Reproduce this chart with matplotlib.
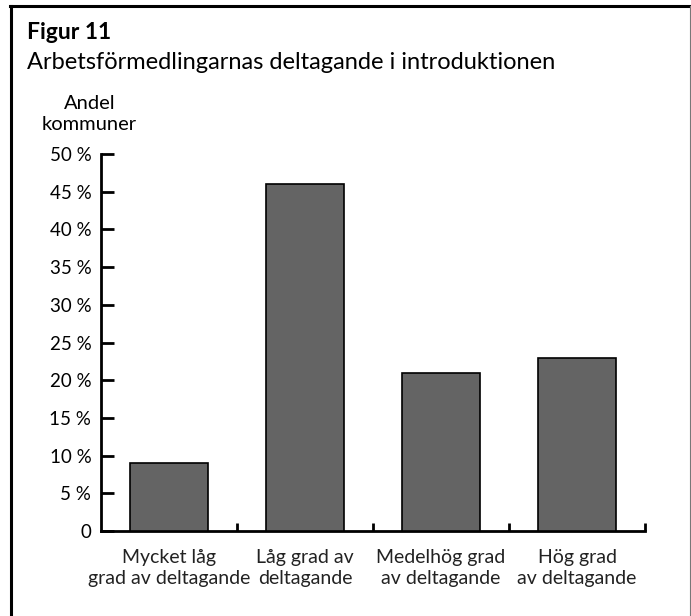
import matplotlib
matplotlib.use("Agg")
import matplotlib.pyplot as plt
from matplotlib.lines import Line2D

categories = ["Mycket låg\ngrad av deltagande", "Låg grad av\ndeltagande",
              "Medelhög grad\nav deltagande", "Hög grad\nav deltagande"]
values = [9, 46, 21, 23]
yticks = [0, 5, 10, 15, 20, 25, 30, 35, 40, 45, 50]
ytick_labels = ["0"] + [f"{v} %" for v in yticks[1:]]

plt.rcParams['font.family'] = ['Lato', 'DejaVu Sans']

W, H = 691, 616
fig = plt.figure(figsize=(W / 100, H / 100), dpi=100)

def fx(x):
    return x / W

def fy(y):
    return 1 - y / H

# frame
fig.add_artist(Line2D([fx(10), fx(691)], [fy(6), fy(6)], color='black', lw=2.2))
fig.add_artist(Line2D([fx(11), fx(11)], [fy(6), fy(616)], color='black', lw=2.2))
fig.add_artist(Line2D([fx(690), fx(690)], [fy(6), fy(616)], color='#777777', lw=0.8))

fig.text(fx(27), fy(39), "Figur 11", fontsize=16.5, fontweight='bold', va='baseline')
fig.text(fx(27), fy(69), "Arbetsförmedlingarnas deltagande i introduktionen", fontsize=17, va='baseline')

ax = fig.add_axes([fx(101), fy(531), (645 - 101) / W, (531 - 154) / H])
x = list(range(len(categories)))
ax.bar(x, values, width=0.58, color='#646464', edgecolor='black', linewidth=1.2, zorder=3)
ax.set_xlim(-0.5, 3.5)
ax.set_ylim(0, 50)

ax.spines['top'].set_visible(False)
ax.spines['right'].set_visible(False)
ax.spines['left'].set_linewidth(2)
ax.spines['bottom'].set_linewidth(2)

ax.set_yticks(yticks)
ax.set_yticklabels(ytick_labels, fontsize=13.5)
ax.tick_params(axis='y', direction='in', length=9, width=2, pad=7)

ax.set_xticks(x)
ax.set_xticklabels(categories, fontsize=14, color='#222222', linespacing=1.25)
ax.tick_params(axis='x', which='major', length=0, pad=13)
ax.set_xticks([0.5, 1.5, 2.5, 3.5], minor=True)
ax.tick_params(axis='x', which='minor', direction='in', length=6, width=2)

fig.text(fx(89.5), fy(114), "Andel\nkommuner", fontsize=14.5, ha='center', va='center', linespacing=1.35)

fig.savefig("out.png", dpi=100)
